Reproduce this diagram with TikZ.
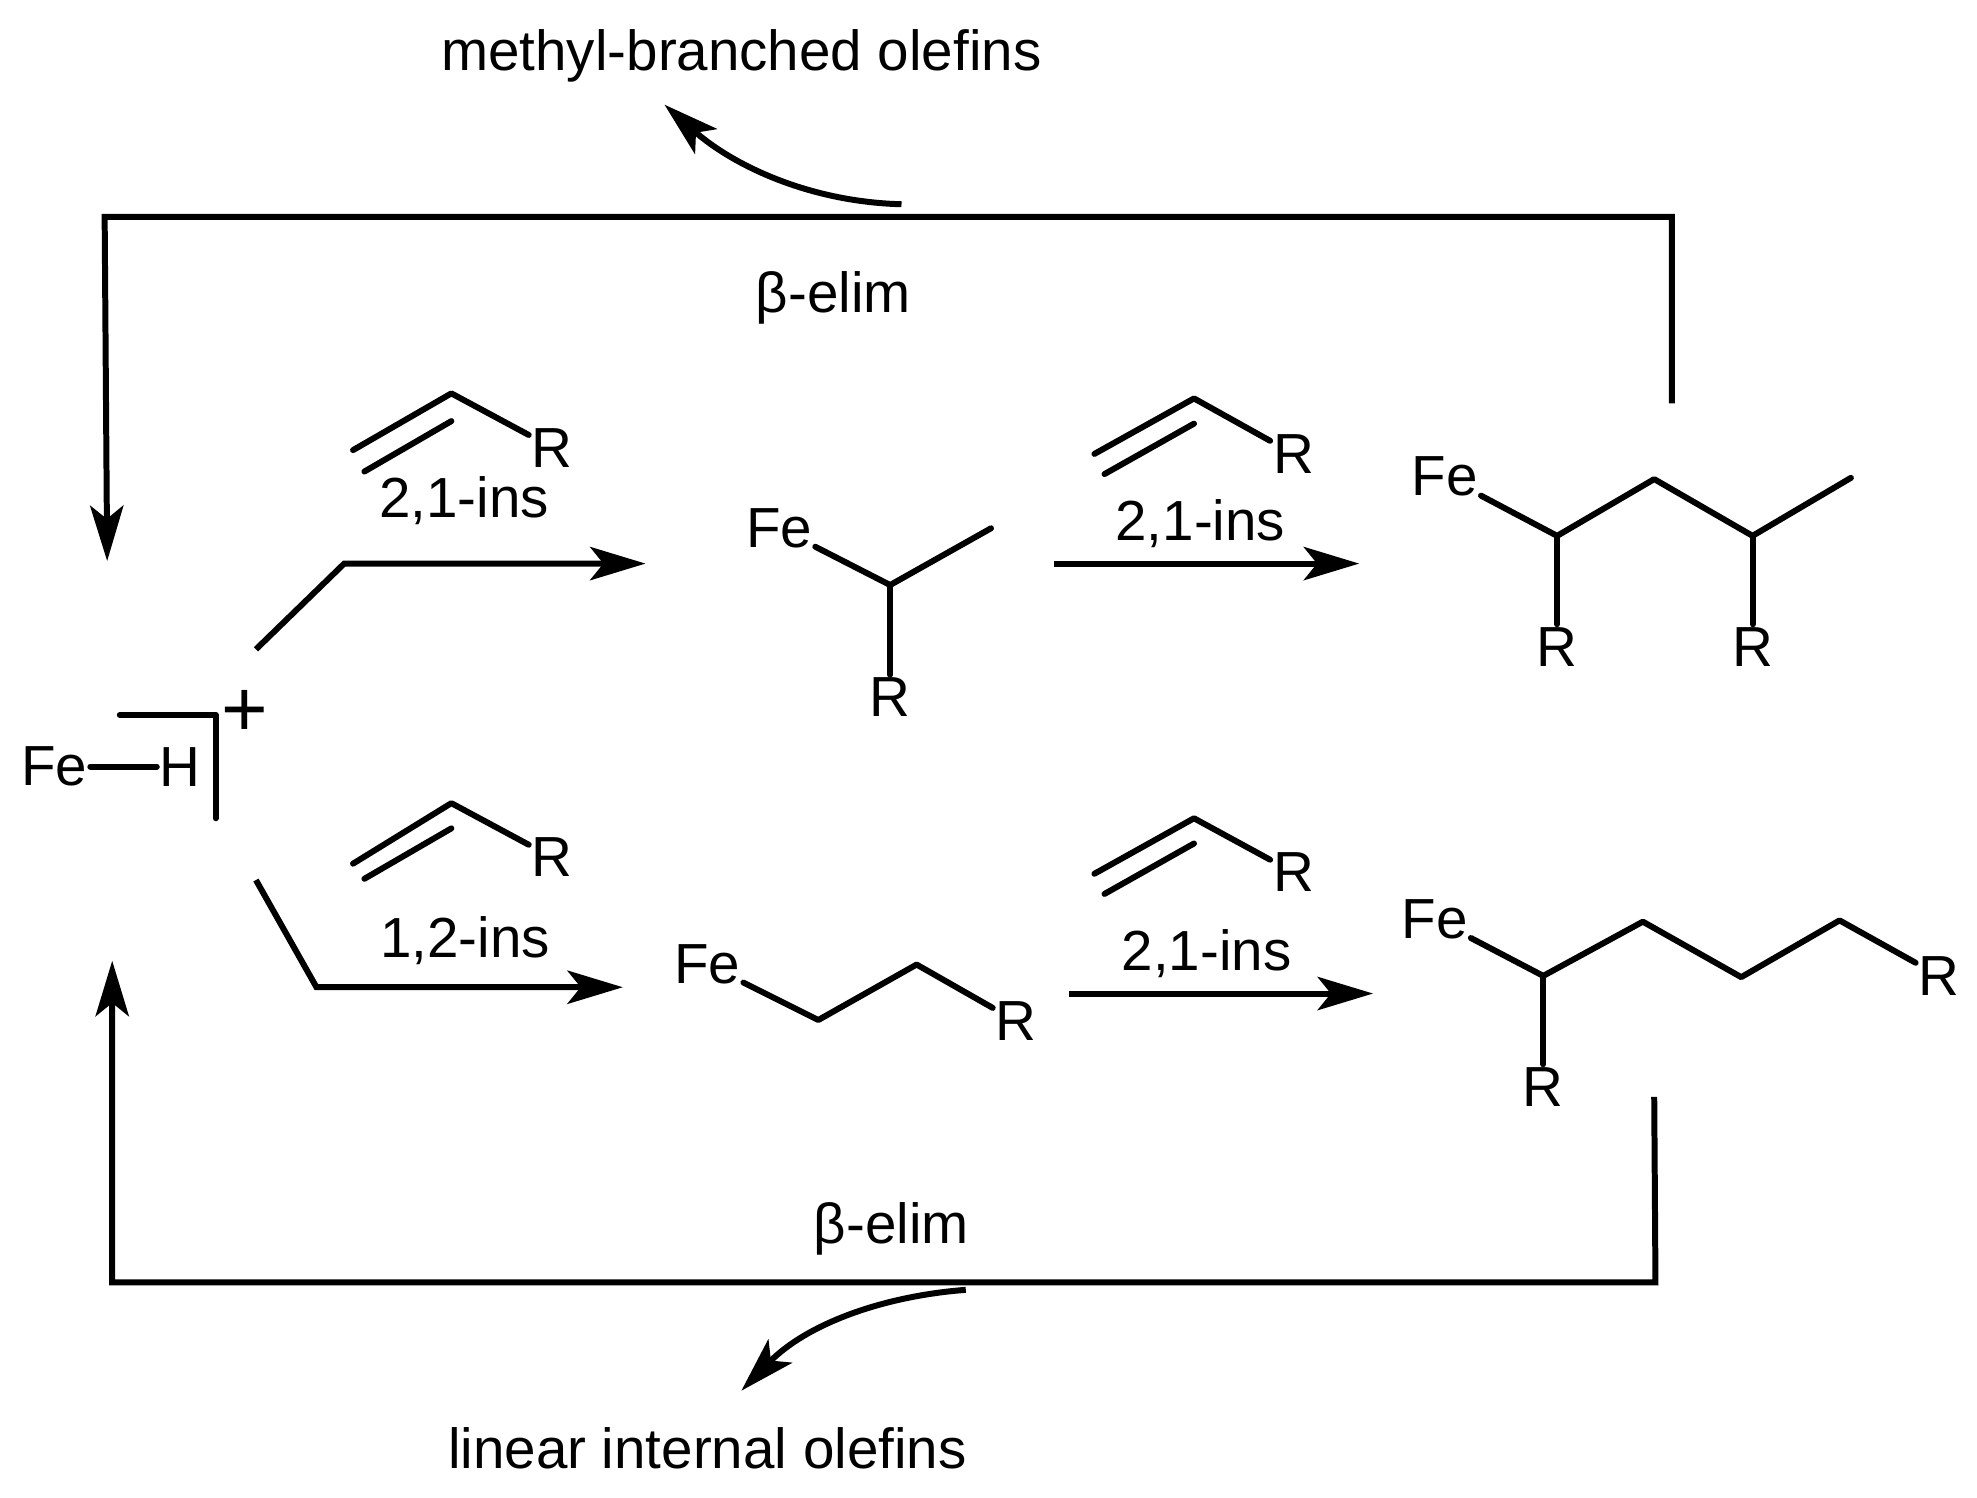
\documentclass[tikz,border=0pt]{standalone}
\usepackage{fontspec}
\setmainfont{Liberation Sans}
\usetikzlibrary{arrows.meta}

\tikzset{
  atom/.style={inner sep=0.5pt, font=\fontsize{12.75}{15}\selectfont},
  caption/.style={inner sep=0pt, font=\fontsize{12.75}{15}\selectfont},
  bond/.style={line width=1.35pt, line cap=round, line join=round},
  rxn/.style={line width=1.35pt, line join=miter, -{Stealth[length=12.5pt, width=7.5pt, inset=3pt]}},
}

\begin{document}
\begin{tikzpicture}[x=0.01cm, y=-0.01cm]
  \useasboundingbox (0,0) rectangle (1568,1188);

  % hydride
  \node [atom](fe0) at (43,608) {Fe};
  \node [atom](h0) at (143,608) {H};
  \node [caption, font=\fontsize{18}{18}\selectfont](plus) at (194,566) {+};
  \coordinate (br1) at (95,567);
  \coordinate (br2) at (171,567);
  \coordinate (br3) at (171,649);
  \draw [bond] (fe0) -- (h0);
  \draw [bond] (br1) -- (br2) -- (br3);

  % upper row, nodes
  \coordinate (ua1) at (280,357);
  \coordinate (ua2) at (358,312);
  \coordinate (ua3) at (289,374);
  \coordinate (ua4) at (358,334);
  \node [atom](ur1) at (438,355) {R};
  \node [caption](ulab1) at (368,397) {2,1-ins};

  \node [atom](ufe1) at (618,419) {Fe};
  \coordinate (uc1) at (706,464);
  \coordinate (uc2) at (786,419);
  \node [atom](ur2) at (706,553) {R};

  \coordinate (ub1) at (868,360);
  \coordinate (ub2) at (947,316);
  \coordinate (ub3) at (876,376);
  \coordinate (ub4) at (947,336);
  \node [atom](ur3) at (1026,360) {R};
  \node [caption](ulab2) at (952,415) {2,1-ins};

  \node [atom](ufe2) at (1146,378) {Fe};
  \coordinate (ud1) at (1235,425);
  \coordinate (ud2) at (1312,380);
  \coordinate (ud3) at (1390,425);
  \coordinate (ud4) at (1468,379);
  \node [atom](ur4) at (1235,513) {R};
  \node [atom](ur5) at (1390,513) {R};

  % upper row, bonds
  \draw [bond] (ua1) -- (ua2) -- (ur1);
  \draw [bond] (ua3) -- (ua4);
  \draw [bond] (ufe1) -- (uc1) -- (uc2);
  \draw [bond] (uc1) -- (ur2);
  \draw [bond] (ub1) -- (ub2) -- (ur3);
  \draw [bond] (ub3) -- (ub4);
  \draw [bond] (ufe2) -- (ud1) -- (ud2) -- (ud3) -- (ud4);
  \draw [bond] (ud1) -- (ur4);
  \draw [bond] (ud3) -- (ur5);

  % upper row, arrows
  \coordinate (up1) at (203,515);
  \coordinate (up2) at (273,447);
  \coordinate (up3) at (512,447);
  \coordinate (up4) at (836,447);
  \coordinate (up5) at (1078,447);
  \draw [rxn] (up1) -- (up2) -- (up3);
  \draw [rxn] (up4) -- (up5);

  % lower row, nodes
  \coordinate (la1) at (280,685);
  \coordinate (la2) at (358,637);
  \coordinate (la3) at (289,697);
  \coordinate (la4) at (358,657);
  \node [atom](lr1) at (438,680) {R};
  \node [caption](llab1) at (369,746) {1,2-ins};

  \node [atom](lfe1) at (561,765) {Fe};
  \coordinate (lc1) at (649,809);
  \coordinate (lc2) at (727,765);
  \node [atom](lr2) at (806,810) {R};

  \coordinate (lb1) at (868,693);
  \coordinate (lb2) at (947,649);
  \coordinate (lb3) at (876,709);
  \coordinate (lb4) at (947,669);
  \node [atom](lr3) at (1026,692) {R};
  \node [caption](llab2) at (957,756) {2,1-ins};

  \node [atom](lfe2) at (1138,729) {Fe};
  \coordinate (ld1) at (1224,774);
  \coordinate (ld2) at (1303,731);
  \coordinate (ld3) at (1381,775);
  \coordinate (ld4) at (1459,730);
  \node [atom](lr4) at (1538,774) {R};
  \node [atom](lr5) at (1224,862) {R};

  % lower row, bonds
  \draw [bond] (la1) -- (la2) -- (lr1);
  \draw [bond] (la3) -- (la4);
  \draw [bond] (lfe1) -- (lc1) -- (lc2) -- (lr2);
  \draw [bond] (lb1) -- (lb2) -- (lr3);
  \draw [bond] (lb3) -- (lb4);
  \draw [bond] (lfe2) -- (ld1) -- (ld2) -- (ld3) -- (ld4) -- (lr4);
  \draw [bond] (ld1) -- (lr5);

  % lower row, arrows
  \coordinate (lp1) at (203,698);
  \coordinate (lp2) at (251,783);
  \coordinate (lp3) at (494,783);
  \coordinate (lp4) at (848,788);
  \coordinate (lp5) at (1089,788);
  \draw [rxn] (lp1) -- (lp2) -- (lp3);
  \draw [rxn] (lp4) -- (lp5);

  % top loop
  \node [caption](toplab) at (588,44) {methyl-branched olefins};
  \node [caption](topelim) at (661,236) {β-elim};
  \coordinate (tl1) at (1326,320);
  \coordinate (tl2) at (1326,172);
  \coordinate (tl3) at (83,172);
  \coordinate (tl4) at (85,445);
  \coordinate (tc1) at (715,162);
  \coordinate (tc2) at (527,83);
  \draw [rxn] (tl1) -- (tl2) -- (tl3) -- (tl4);
  \draw [rxn] (tc1) .. controls (640,160) and (580,130) .. (tc2);

  % bottom loop
  \node [caption](botlab) at (561,1149) {linear internal olefins};
  \node [caption](botelim) at (707,975) {β-elim};
  \coordinate (bl1) at (1312,870);
  \coordinate (bl2) at (1313,1017);
  \coordinate (bl3) at (89,1017);
  \coordinate (bl4) at (89,762);
  \coordinate (bc1) at (766,1023);
  \coordinate (bc2) at (588,1103);
  \draw [rxn] (bl1) -- (bl2) -- (bl3) -- (bl4);
  \draw [rxn] (bc1) .. controls (700,1028) and (640,1050) .. (bc2);
\end{tikzpicture}
\end{document}
